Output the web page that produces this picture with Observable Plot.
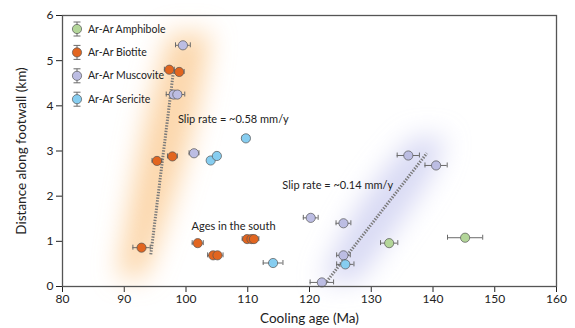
<!DOCTYPE html>
<html>
<head>
<meta charset="utf-8">
<script src="https://cdn.jsdelivr.net/npm/d3@7"></script>
<script src="https://cdn.jsdelivr.net/npm/@observablehq/plot@0.6"></script>
<style>
  html, body { margin: 0; padding: 0; background: #fff; }
  #chart { position: relative; width: 575px; height: 328px; }
  svg { font-family: Lato, "Open Sans", sans-serif; }
</style>
</head>
<body>
<div id="chart"></div>
<script>
// ---- data (cooling age in Ma, distance in km, 2-sigma error in Ma) ----
const amphibole = [
  {age: 132.9, km: 0.96, err: 1.4},
  {age: 145.2, km: 1.08, err: 2.85}
];
const biotite = [
  {age: 97.3, km: 4.80, err: 0.8},
  {age: 98.9, km: 4.75, err: 0.8},
  {age: 95.3, km: 2.78, err: 0.8},
  {age: 97.8, km: 2.88, err: 0.8},
  {age: 92.8, km: 0.86, err: 1.4},
  {age: 101.9, km: 0.96, err: 0.9},
  {age: 104.4, km: 0.69, err: 0.9},
  {age: 105.1, km: 0.69, err: 0.9},
  {age: 109.9, km: 1.05, err: 0.8},
  {age: 110.6, km: 1.05, err: 0.8},
  {age: 111.0, km: 1.05, err: 0.8}
];
const muscovite = [
  {age: 99.5, km: 5.34, err: 1.2},
  {age: 98.0, km: 4.25, err: 1.2},
  {age: 98.6, km: 4.25, err: 1.2},
  {age: 101.3, km: 2.95, err: 0.8},
  {age: 120.2, km: 1.52, err: 1.2},
  {age: 125.5, km: 1.40, err: 1.2},
  {age: 125.5, km: 0.69, err: 1.1},
  {age: 122.0, km: 0.09, err: 1.9},
  {age: 136.0, km: 2.90, err: 1.8},
  {age: 140.5, km: 2.68, err: 1.8}
];
const sericite = [
  {age: 109.7, km: 3.28, err: 0.6},
  {age: 104.0, km: 2.79, err: 0},
  {age: 105.0, km: 2.89, err: 0},
  {age: 114.1, km: 0.52, err: 1.6},
  {age: 125.8, km: 0.49, err: 1.4}
];
const seriesNames = ["Ar-Ar Amphibole", "Ar-Ar Biotite", "Ar-Ar Muscovite", "Ar-Ar Sericite"];
const seriesColors = ["#b3d699", "#e2651f", "#bcbde3", "#86cdf0"];

// slip-rate regression lines
const northLine = [{age: 94.3, km: 0.71}, {age: 98.0, km: 4.80}];
const southLine = [{age: 122.5, km: 0.06}, {age: 139.0, km: 2.95}];

// glow envelopes around the two trends (left / right age edge at each distance)
const orangeGlow = [
  {km: 0.2, lo: 89.0, hi: 93.5},
  {km: 1.5, lo: 90.5, hi: 97.0},
  {km: 3.0, lo: 92.5, hi: 100.5},
  {km: 4.5, lo: 95.0, hi: 103.0},
  {km: 5.6, lo: 97.5, hi: 104.0}
];
const blueGlow = [
  {km: 0.1, lo: 122.0, hi: 128.0},
  {km: 1.25, lo: 125.5, hi: 134.0},
  {km: 2.6, lo: 132.0, hi: 141.0},
  {km: 3.3, lo: 137.0, hi: 142.0}
];

// annotations
const notes = [
  {age: 98.7, km: 3.69, text: "Slip rate = ~0.58 mm/y"},
  {age: 115.6, km: 2.24, text: "Slip rate = ~0.14 mm/y"},
  {age: 100.9, km: 1.34, text: "Ages in the south"}
];

const xTicks = [80, 90, 100, 110, 120, 130, 140, 150, 160];
const yTicks = [0, 1, 2, 3, 4, 5, 6];

// ---- chart ----
const groups = [amphibole, biotite, muscovite, sericite];
const capH = 0.055;
const errMarks = [];
const dotMarks = [];
groups.forEach((g, i) => {
  const e = g.filter(d => d.err > 0);
  errMarks.push(
    Plot.ruleY(e, {y: "km", x1: d => d.age - d.err, x2: d => d.age + d.err, stroke: "#6a6a6a", strokeWidth: 1}),
    Plot.ruleX(e, {x: d => d.age - d.err, y1: d => d.km - capH, y2: d => d.km + capH, stroke: "#6a6a6a", strokeWidth: 1}),
    Plot.ruleX(e, {x: d => d.age + d.err, y1: d => d.km - capH, y2: d => d.km + capH, stroke: "#6a6a6a", strokeWidth: 1})
  );
});
groups.forEach((g, i) => {
  dotMarks.push(Plot.dot(g, {x: "age", y: "km", r: 4.6, fill: seriesColors[i], stroke: "#555", strokeWidth: 0.7}));
});

const svg = Plot.plot({
  width: 575,
  height: 328,
  marginLeft: 62,
  marginRight: 19,
  marginTop: 15,
  marginBottom: 42,
  x: {domain: [80, 160], ticks: xTicks, tickFormat: "d", tickSize: 6, tickPadding: 2, label: "Cooling age (Ma)", labelAnchor: "center", labelOffset: 36, labelArrow: "none"},
  y: {domain: [0, 6], ticks: yTicks, tickFormat: "d", tickSize: 6, tickPadding: 3, label: "Distance along footwall (km)", labelAnchor: "center", labelOffset: 46, labelArrow: "none"},
  style: {fontFamily: "Lato, 'Open Sans', sans-serif", fontSize: "12px", color: "#222", background: "transparent"},
  marks: [
    Plot.areaX(orangeGlow, {y: "km", x1: "lo", x2: "hi", fill: "#fbc990", fillOpacity: 0.75, curve: "basis"}),
    Plot.areaX(blueGlow, {y: "km", x1: "lo", x2: "hi", fill: "#c9cbef", fillOpacity: 0.7, curve: "basis"}),
    Plot.line(northLine, {x: "age", y: "km", stroke: "#7a7a7a", strokeWidth: 3, strokeDasharray: "1.4,1.4", strokeLinecap: "butt"}),
    Plot.line(southLine, {x: "age", y: "km", stroke: "#7a7a7a", strokeWidth: 3, strokeDasharray: "1.4,1.4", strokeLinecap: "butt"}),
    ...errMarks,
    ...dotMarks,
    Plot.text(notes, {x: "age", y: "km", text: "text", textAnchor: "start", fontSize: 11, fill: "#222"}),
    Plot.frame({stroke: "#555", strokeWidth: 1.3})
  ]
});

// blur the glow envelopes
const defs = d3.select(svg).insert("defs", ":first-child");
defs.append("filter").attr("id", "glowblur").attr("filterUnits", "userSpaceOnUse")
  .attr("x", 0).attr("y", 0).attr("width", 575).attr("height", 328)
  .append("feGaussianBlur").attr("stdDeviation", 13);
d3.select(svg).selectAll('g[aria-label="area"]').attr("filter", "url(#glowblur)");

// axis label sizes
d3.select(svg).selectAll("text").each(function () {
  const t = this.textContent;
  if (t === "Cooling age (Ma)" || t === "Distance along footwall (km)") {
    d3.select(this).attr("font-size", "13.5px").attr("fill", "#222");
  }
});

// legend inside the plot, top-left
const leg = d3.select(svg).append("g").attr("font-size", "10.5px").attr("fill", "#222").attr("text-anchor", "start");
seriesNames.forEach((name, i) => {
  const cy = 29 + i * 23.4, cx = 77;
  const g = leg.append("g");
  g.append("line").attr("x1", cx).attr("x2", cx).attr("y1", cy - 7).attr("y2", cy + 7).attr("stroke", "#6a6a6a");
  g.append("line").attr("x1", cx - 3.5).attr("x2", cx + 3.5).attr("y1", cy - 7).attr("y2", cy - 7).attr("stroke", "#6a6a6a");
  g.append("line").attr("x1", cx - 3.5).attr("x2", cx + 3.5).attr("y1", cy + 7).attr("y2", cy + 7).attr("stroke", "#6a6a6a");
  g.append("circle").attr("cx", cx).attr("cy", cy).attr("r", 4.6).attr("fill", seriesColors[i]).attr("stroke", "#555").attr("stroke-width", 0.7);
  g.append("text").attr("x", 88).attr("y", cy).attr("dy", "0.35em").text(name);
});

document.getElementById("chart").appendChild(svg);
</script>
</body>
</html>
